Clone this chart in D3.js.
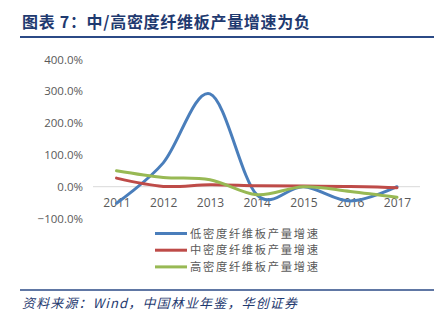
<!DOCTYPE html>
<html>
<head>
<meta charset="utf-8">
<script src="https://cdn.jsdelivr.net/npm/d3@7"></script>
<style>
  html, body { margin: 0; padding: 0; background: #fff; }
  svg { display: block; font-family: "Noto Sans CJK SC", "Noto Sans", sans-serif; }
</style>
</head>
<body>
<svg id="chart" width="444" height="327"></svg>
<script>
// Years on the category axis
const years = ["2011", "2012", "2013", "2014", "2015", "2016", "2017"];
// Production growth rates (%) per fibreboard density class
const lowDensity = [-52, 75, 292, -25, 0, -45, 0];
const midDensity = [27, 1, 6, 3, 2, 1, -3];
const highDensity = [50, 29, 22, -25, 0, -15, -33];
// Value-axis ticks (%)
const yTicks = [-100, 0, 100, 200, 300, 400];
const seriesNames = ["低密度纤维板产量增速", "中密度纤维板产量增速", "高密度纤维板产量增速"];

const series = [
  { name: seriesNames[0], values: lowDensity, color: "#4A7EBB" },
  { name: seriesNames[1], values: midDensity, color: "#BE4B48" },
  { name: seriesNames[2], values: highDensity, color: "#98B954" }
];

const svg = d3.select("#chart");
const navy = "#1F3A70";

// Heading and rule
svg.append("text")
  .attr("x", 22).attr("y", 28)
  .attr("fill", navy)
  .attr("font-size", 16).attr("font-weight", "bold")
  .attr("textLength", 288).attr("lengthAdjust", "spacing")
  .text("图表 7：中/高密度纤维板产量增速为负");
svg.append("line")
  .attr("x1", 20).attr("x2", 434).attr("y1", 37).attr("y2", 37)
  .attr("stroke", "#2B4A86").attr("stroke-width", 2);

// Plot area
const x = d3.scalePoint().domain(years).range([116.5, 397]);
const y = d3.scaleLinear().domain([-100, 400]).range([218.5, 59.5]);

// Zero baseline
svg.append("line")
  .attr("x1", 93).attr("x2", 420)
  .attr("y1", y(0)).attr("y2", y(0))
  .attr("stroke", "#D9D9D9").attr("stroke-width", 1);

// Value axis labels
const yAxis = d3.axisLeft(y).tickValues(yTicks).tickSize(0).tickPadding(0)
  .tickFormat(d => d3.format(".1f")(d) + "%");
const gy = svg.append("g").attr("transform", "translate(83,0)").call(yAxis);
gy.select(".domain").remove();
gy.selectAll("text").attr("fill", "#595959").attr("font-size", 11.5)
  .attr("font-family", "'Open Sans', 'Noto Sans', sans-serif");

// Category labels
const xAxis = d3.axisBottom(x).tickSize(0).tickPadding(0);
const gx = svg.append("g").attr("transform", "translate(0,198)").call(xAxis);
gx.select(".domain").remove();
gx.selectAll("text").attr("fill", "#595959").attr("font-size", 12)
  .attr("font-family", "'Open Sans', 'Noto Sans', sans-serif");

// Smoothed series lines
const line = d3.line()
  .x((d, i) => x(years[i]))
  .y(d => y(d))
  .curve(d3.curveCatmullRom.alpha(0));

svg.append("g").selectAll("path")
  .data(series)
  .join("path")
  .attr("d", s => line(s.values))
  .attr("fill", "none")
  .attr("stroke", s => s.color)
  .attr("stroke-width", 3)
  .attr("stroke-linecap", "round")
  .attr("stroke-linejoin", "round");

// Legend
const legend = svg.append("g").selectAll("g")
  .data(series)
  .join("g")
  .attr("transform", (s, i) => `translate(155,${233.5 + i * 16.7})`);
legend.append("line")
  .attr("x1", 0).attr("x2", 32)
  .attr("stroke", s => s.color).attr("stroke-width", 3);
legend.append("text")
  .attr("x", 35).attr("dy", "0.36em")
  .attr("fill", "#595959").attr("font-size", 11.3)
  .attr("textLength", 128).attr("lengthAdjust", "spacing")
  .text(s => s.name);

// Source rule and note
svg.append("line")
  .attr("x1", 20).attr("x2", 434).attr("y1", 290).attr("y2", 290)
  .attr("stroke", "#2B4A86").attr("stroke-width", 1.5);
svg.append("text")
  .attr("x", 22).attr("y", 308)
  .attr("fill", navy)
  .attr("font-size", 13).attr("font-style", "italic")
  .attr("textLength", 275).attr("lengthAdjust", "spacing")
  .text("资料来源：Wind，中国林业年鉴，华创证券");
</script>
</body>
</html>
